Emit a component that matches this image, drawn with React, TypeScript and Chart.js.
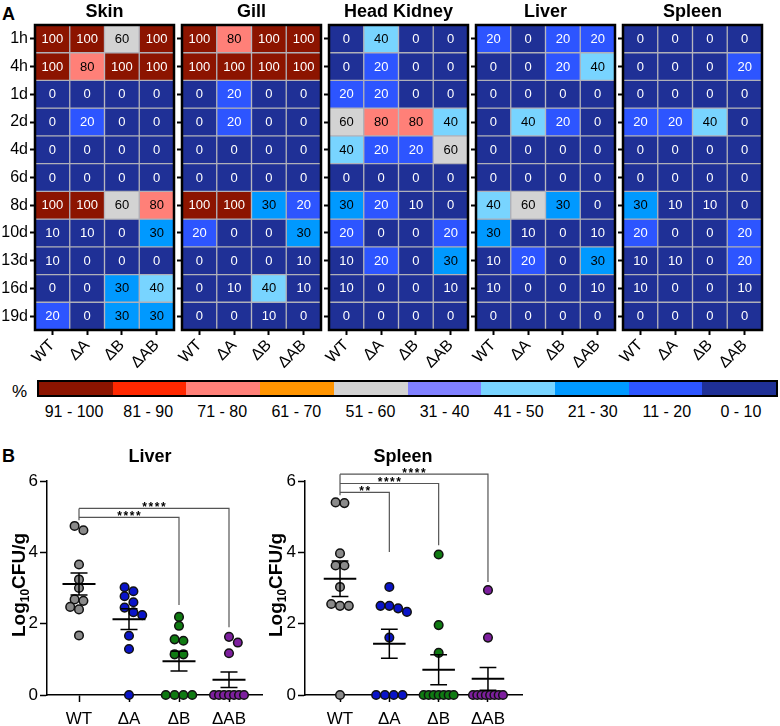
import React, { useEffect, useRef } from "react";
import { Chart, registerables } from "chart.js";
Chart.register(...registerables);

const FONT = "'Liberation Sans', Arial, Helvetica, sans-serif";
Chart.defaults.font.family = FONT;
Chart.defaults.color = "#000";

// ---------- DATA ----------
const timePoints = ["1h", "4h", "1d", "2d", "4d", "6d", "8d", "10d", "13d", "16d", "19d"];
const strains = ["WT", "\u0394A", "\u0394B", "\u0394AB"];

const skinPct = [
  [100, 100, 60, 100],
  [100, 80, 100, 100],
  [0, 0, 0, 0],
  [0, 20, 0, 0],
  [0, 0, 0, 0],
  [0, 0, 0, 0],
  [100, 100, 60, 80],
  [10, 10, 0, 30],
  [10, 0, 0, 0],
  [0, 0, 30, 40],
  [20, 0, 30, 30],
];
const gillPct = [
  [100, 80, 100, 100],
  [100, 100, 100, 100],
  [0, 20, 0, 0],
  [0, 20, 0, 0],
  [0, 0, 0, 0],
  [0, 0, 0, 0],
  [100, 100, 30, 20],
  [20, 0, 0, 30],
  [0, 0, 0, 10],
  [0, 10, 40, 10],
  [0, 0, 10, 0],
];
const headKidneyPct = [
  [0, 40, 0, 0],
  [0, 20, 0, 0],
  [20, 20, 0, 0],
  [60, 80, 80, 40],
  [40, 20, 20, 60],
  [0, 0, 0, 0],
  [30, 20, 10, 0],
  [20, 0, 0, 20],
  [10, 20, 0, 30],
  [10, 0, 0, 10],
  [0, 0, 0, 0],
];
const liverPct = [
  [20, 0, 20, 20],
  [0, 0, 20, 40],
  [0, 0, 0, 0],
  [0, 40, 20, 0],
  [0, 0, 0, 0],
  [0, 0, 0, 0],
  [40, 60, 30, 0],
  [30, 10, 0, 10],
  [10, 20, 0, 30],
  [10, 0, 0, 10],
  [0, 0, 0, 0],
];
const spleenPct = [
  [0, 0, 0, 0],
  [0, 0, 0, 20],
  [0, 0, 0, 0],
  [20, 20, 40, 0],
  [0, 0, 0, 0],
  [0, 0, 0, 0],
  [30, 10, 10, 0],
  [20, 0, 0, 20],
  [10, 10, 0, 20],
  [10, 0, 0, 10],
  [0, 0, 0, 0],
];
const tissueNames = ["Skin", "Gill", "Head Kidney", "Liver", "Spleen"];

const legendRanges = ["91 - 100", "81 - 90", "71 - 80", "61 - 70", "51 - 60", "31 - 40", "41 - 50", "21 - 30", "11 - 20", "0 - 10"];
const legendColors = ["#8c1400", "#ff2800", "#ff8078", "#ff9400", "#d3d3d3", "#8080ff", "#78d4ff", "#0099ff", "#2d55ff", "#1f3096"];

// log10 CFU/g
const liverWT = [4.74, 4.62, 3.66, 3.24, 3.0, 2.68, 2.64, 2.47, 2.4, 1.67];
const liverDA = [3.02, 2.91, 2.77, 2.6, 2.45, 2.32, 2.24, 1.66, 1.29, 0];
const liverDB = [2.19, 1.94, 1.56, 1.52, 1.14, 1.14, 0, 0, 0, 0];
const liverDAB = [1.63, 1.47, 1.17, 0, 0, 0, 0, 0, 0, 0];
const spleenWT = [5.4, 5.38, 3.97, 3.63, 3.63, 3.03, 2.55, 2.5, 2.5, 0];
const spleenDA = [3.03, 2.5, 2.5, 2.43, 2.33, 1.61, 0, 0, 0, 0];
const spleenDB = [3.94, 1.96, 1.18, 0, 0, 0, 0, 0, 0, 0];
const spleenDAB = [2.94, 1.61, 0, 0, 0, 0, 0, 0, 0, 0];
const groupColors = ["#8a8a8a", "#0a14c8", "#0f7a12", "#7d1f9e"];

// significance brackets: compared groups, label, bracket level and leg end (log10 CFU/g)
const liverSig = [
  { from: 0, to: 2, label: "****", level: 4.98, end: 2.52 },
  { from: 0, to: 3, label: "****", level: 5.23, end: 1.9 },
];
const spleenSig = [
  { from: 0, to: 1, label: "**", level: 5.68, end: 4.01 },
  { from: 0, to: 2, label: "****", level: 5.93, end: 4.2 },
  { from: 0, to: 3, label: "****", level: 6.19, end: 3.17 },
];

// ---------- helpers ----------
function cellColor(v: number) {
  if (v >= 91) return legendColors[0];
  if (v >= 81) return legendColors[1];
  if (v >= 71) return legendColors[2];
  if (v >= 61) return legendColors[3];
  if (v >= 51) return legendColors[4];
  if (v >= 41) return legendColors[5];
  if (v >= 31) return legendColors[6];
  if (v >= 21) return legendColors[7];
  if (v >= 11) return legendColors[8];
  return legendColors[9];
}
function textColor(v: number) {
  if (v >= 81) return "#fff";
  if (v >= 21) return "#000";
  return "#fff";
}

function swarm(values: number[], pxY: number, d: number, maxRow: number): number[] {
  const order = values.map((_, i) => i).sort((a, b) => values[b] - values[a]);
  const rows: number[][] = [];
  for (const i of order) {
    const r = rows[rows.length - 1];
    if (r && values[r[0]] - values[i] <= 0.13) r.push(i);
    else rows.push([i]);
  }
  const placed: { x: number; y: number }[] = [];
  const off = new Array(values.length).fill(0);
  const shifts = [0, 0.5, -0.5, 1, -1, 1.5, -1.5, 2, -2].map((s) => s * d);
  for (const r of rows) {
    const n = r.length;
    const sp = n > 1 ? Math.min(d, maxRow / (n - 1)) : 0;
    const base = r.map((_, k) => (k - (n - 1) / 2) * sp);
    let chosen = 0;
    for (const s of shifts) {
      const ok = r.every((i, k) =>
        placed.every((p) => Math.hypot(base[k] + s - p.x, values[i] * pxY - p.y) >= 0.88 * d)
      );
      if (ok) {
        chosen = s;
        break;
      }
    }
    r.forEach((i, k) => {
      off[i] = base[k] + chosen;
      placed.push({ x: off[i], y: values[i] * pxY });
    });
  }
  return off;
}

// ---------- Heatmap panel ----------
const HM_TOP = 25;
const HM_W = 139;
const HM_H = 305;
const HM_XAXIS = 50;
const HM_PADR = 4;

function HeatmapPanel({ name, matrix, left, yw, showLabels }: any) {
  const ref = useRef<HTMLCanvasElement>(null);
  const W = yw + HM_W + HM_PADR;
  const H = HM_TOP + HM_H + HM_XAXIS;
  useEffect(() => {
    const plugin = {
      id: "hmDecor",
      afterDatasetsDraw(chart: any) {
        const ctx = chart.ctx;
        ctx.save();
        ctx.font = `13px ${FONT}`;
        ctx.textAlign = "center";
        ctx.textBaseline = "middle";
        chart.data.datasets.forEach((_: any, r: number) => {
          const meta = chart.getDatasetMeta(r);
          meta.data.forEach((el: any, c: number) => {
            const v = matrix[r][c];
            const p = el.getProps(["x", "y", "base"], true);
            ctx.fillStyle = textColor(v);
            ctx.fillText(String(v), p.x, (p.y + p.base) / 2 + 0.5);
          });
        });
        const a = chart.chartArea;
        ctx.lineWidth = 2.5;
        ctx.strokeStyle = "#000";
        ctx.strokeRect(a.left, a.top, a.right - a.left, a.bottom - a.top);
        ctx.font = `bold 18px ${FONT}`;
        ctx.fillStyle = "#000";
        ctx.textBaseline = "alphabetic";
        ctx.fillText(name, (a.left + a.right) / 2, 17);
        ctx.restore();
      },
    };
    const chart = new Chart(ref.current as HTMLCanvasElement, {
      type: "bar",
      data: {
        labels: strains,
        datasets: timePoints.map((t, r) => ({
          label: t,
          data: strains.map(() => 1),
          backgroundColor: matrix[r].map((v: number) => cellColor(v)),
          borderColor: "#b0b0b8",
          borderWidth: 1,
          borderSkipped: false,
          barPercentage: 1,
          categoryPercentage: 1,
        })),
      },
      options: {
        responsive: false,
        devicePixelRatio: 1,
        animation: false,
        layout: { padding: { top: HM_TOP, right: HM_PADR, left: 0, bottom: 0 } },
        plugins: { legend: { display: false }, tooltip: { enabled: false }, title: { display: false } },
        scales: {
          x: {
            type: "category",
            stacked: true,
            offset: true,
            afterFit: (s: any) => {
              s.height = HM_XAXIS;
            },
            ticks: { autoSkip: false, minRotation: 45, maxRotation: 45, font: { size: 16 }, padding: 1, color: "#000" },
            grid: { offset: false, drawOnChartArea: false, drawTicks: true, tickLength: 5, tickColor: "#000", tickWidth: 2 },
            border: { display: false },
          },
          y: {
            type: "linear",
            stacked: true,
            reverse: true,
            min: 0,
            max: timePoints.length,
            afterBuildTicks: (s: any) => {
              s.ticks = timePoints.map((_, i) => ({ value: i + 0.5 }));
            },
            afterFit: (s: any) => {
              s.width = yw;
            },
            ticks: {
              display: showLabels,
              callback: (_v: any, i: number) => timePoints[i],
              font: { size: 16 },
              padding: 2,
              color: "#000",
            },
            grid: { drawOnChartArea: false, drawTicks: true, tickLength: 5, tickColor: "#000", tickWidth: 2 },
            border: { display: false },
          },
        },
      } as any,
      plugins: [plugin],
    });
    return () => chart.destroy();
  }, []);
  return (
    <canvas
      ref={ref}
      width={W}
      height={H}
      style={{ position: "absolute", left: left - yw, top: 0, width: W, height: H }}
    />
  );
}

// ---------- Scatter panel ----------
const SC_TOP = 440;
const SC_H = 286;
const SC_PADTOP = 41;
const SC_XAXIS = 31;
const SC_PADR = 13;

function ScatterPanel({ title, groups, sig, left, width, yw, xmin, xmax, titleX, yTitleX }: any) {
  const ref = useRef<HTMLCanvasElement>(null);
  useEffect(() => {
    const areaW = width - yw - SC_PADR;
    const areaH = SC_H - SC_PADTOP - SC_XAXIS;
    const pxX = areaW / (xmax - xmin);
    const pxY = areaH / 6;
    const datasets = groups.map((vals: number[], g: number) => {
      const off = swarm(vals, pxY, 8.8, 30);
      return {
        label: strains[g],
        data: vals.map((v, i) => ({ x: g + off[i] / pxX, y: v })),
        backgroundColor: groupColors[g],
        borderColor: "#111",
        borderWidth: 1.5,
        pointRadius: 4.3,
        pointHoverRadius: 4.3,
        clip: false,
      };
    });
    const plugin = {
      id: "scDecor",
      afterDatasetsDraw(chart: any) {
        const { ctx } = chart;
        const x = chart.scales.x;
        const y = chart.scales.y;
        ctx.save();
        ctx.strokeStyle = "#000";
        ctx.lineCap = "butt";
        groups.forEach((vals: number[], g: number) => {
          const n = vals.length;
          const m = vals.reduce((a, b) => a + b, 0) / n;
          const sd = Math.sqrt(vals.reduce((a, b) => a + (b - m) * (b - m), 0) / (n - 1));
          const sem = sd / Math.sqrt(n);
          const cx = x.getPixelForValue(g);
          ctx.lineWidth = 2;
          ctx.beginPath();
          ctx.moveTo(x.getPixelForValue(g - 0.33), y.getPixelForValue(m));
          ctx.lineTo(x.getPixelForValue(g + 0.33), y.getPixelForValue(m));
          ctx.stroke();
          ctx.lineWidth = 1.5;
          ctx.beginPath();
          ctx.moveTo(cx, y.getPixelForValue(m - sem));
          ctx.lineTo(cx, y.getPixelForValue(m + sem));
          for (const e of [m - sem, m + sem]) {
            ctx.moveTo(x.getPixelForValue(g - 0.17), y.getPixelForValue(e));
            ctx.lineTo(x.getPixelForValue(g + 0.17), y.getPixelForValue(e));
          }
          ctx.stroke();
        });
        // brackets
        ctx.strokeStyle = "#555";
        ctx.lineWidth = 1.2;
        const levels = sig.map((s: any) => s.level);
        const top = Math.max(...levels);
        const low = Math.min(...levels);
        ctx.beginPath();
        ctx.moveTo(x.getPixelForValue(0), y.getPixelForValue(top));
        ctx.lineTo(x.getPixelForValue(0), y.getPixelForValue(low - 0.08));
        ctx.stroke();
        sig.forEach((s: any) => {
          const x1 = x.getPixelForValue(s.from);
          const x2 = x.getPixelForValue(s.to);
          const ly = y.getPixelForValue(s.level);
          ctx.strokeStyle = "#555";
          ctx.beginPath();
          ctx.moveTo(x1, ly);
          ctx.lineTo(x2, ly);
          ctx.lineTo(x2, y.getPixelForValue(s.end));
          ctx.stroke();
          ctx.fillStyle = "#000";
          ctx.font = `bold 12px ${FONT}`;
          ctx.textAlign = "center";
          ctx.textBaseline = "alphabetic";
          const chars = s.label.split("");
          const step = 6.2;
          const mid = (x1 + x2) / 2;
          chars.forEach((ch: string, k: number) => {
            ctx.fillText(ch, mid + (k - (chars.length - 1) / 2) * step, ly + 3);
          });
        });
        ctx.restore();
      },
      afterDraw(chart: any) {
        const { ctx, chartArea } = chart;
        ctx.save();
        ctx.fillStyle = "#000";
        ctx.font = `bold 18px ${FONT}`;
        ctx.textAlign = "center";
        ctx.textBaseline = "alphabetic";
        ctx.fillText(title, titleX, 21.5);
        // y title with subscript
        const cy = (chartArea.top + chartArea.bottom) / 2 - 3;
        ctx.translate(yTitleX, cy);
        ctx.rotate(-Math.PI / 2);
        const big = `bold 19px ${FONT}`;
        const small = `bold 12px ${FONT}`;
        ctx.font = big;
        const w1 = ctx.measureText("Log").width;
        const w3 = ctx.measureText("CFU/g").width;
        ctx.font = small;
        const w2 = ctx.measureText("10").width;
        const total = w1 + w2 + w3;
        let sx = -total / 2;
        ctx.textAlign = "left";
        const base = 7;
        ctx.font = big;
        ctx.fillText("Log", sx, base);
        sx += w1;
        ctx.font = small;
        ctx.fillText("10", sx, base + 4);
        sx += w2;
        ctx.font = big;
        ctx.fillText("CFU/g", sx, base);
        ctx.restore();
      },
    };
    const chart = new Chart(ref.current as HTMLCanvasElement, {
      type: "scatter",
      data: { datasets },
      options: {
        responsive: false,
        devicePixelRatio: 1,
        animation: false,
        layout: { padding: { top: SC_PADTOP, right: SC_PADR, left: 0, bottom: 0 } },
        plugins: { legend: { display: false }, tooltip: { enabled: false } },
        scales: {
          x: {
            type: "linear",
            min: xmin,
            max: xmax,
            afterBuildTicks: (s: any) => {
              s.ticks = strains.map((_, i) => ({ value: i }));
            },
            afterFit: (s: any) => {
              s.height = SC_XAXIS;
            },
            ticks: {
              autoSkip: false,
              maxRotation: 0,
              callback: (_v: any, i: number) => strains[i],
              font: { size: 17 },
              padding: 7,
              color: "#000",
            },
            grid: { drawOnChartArea: false, drawTicks: true, tickLength: 7, tickColor: "#000", tickWidth: 1.5 },
            border: { display: true, color: "#000", width: 1.5 },
          },
          y: {
            type: "linear",
            min: 0,
            max: 6,
            afterFit: (s: any) => {
              s.width = yw;
            },
            ticks: { stepSize: 2, font: { size: 17 }, padding: 2, color: "#000" },
            grid: { drawOnChartArea: false, drawTicks: true, tickLength: 7, tickColor: "#000", tickWidth: 1.5 },
            border: { display: true, color: "#000", width: 1.5 },
          },
        },
      } as any,
      plugins: [plugin],
    });
    return () => chart.destroy();
  }, []);
  return (
    <canvas
      ref={ref}
      width={width}
      height={SC_H}
      style={{ position: "absolute", left, top: SC_TOP, width, height: SC_H }}
    />
  );
}

export default function App() {
  const matrices = [skinPct, gillPct, headKidneyPct, liverPct, spleenPct];
  const legendLeft = 37;
  const legendWidth = 741;
  const seg = legendWidth / legendRanges.length;
  return (
    <div
      style={{
        position: "absolute",
        left: 0,
        top: 0,
        width: 780,
        height: 726,
        background: "#fff",
        overflow: "hidden",
        fontFamily: FONT,
        color: "#000",
      }}
    >
      <div style={{ position: "absolute", left: 2, top: 4.5, fontSize: 18, fontWeight: "bold", lineHeight: 1 }}>A</div>
      <div style={{ position: "absolute", left: 2, top: 446.5, fontSize: 18, fontWeight: "bold", lineHeight: 1 }}>B</div>
      {tissueNames.map((n, i) => (
        <HeatmapPanel
          key={n}
          name={n}
          matrix={matrices[i]}
          left={35 + i * 147}
          yw={i === 0 ? 35 : 8}
          showLabels={i === 0}
        />
      ))}
      <div style={{ position: "absolute", left: 12, top: 383, fontSize: 17, lineHeight: 1 }}>%</div>
      <div
        style={{
          position: "absolute",
          left: legendLeft,
          top: 380,
          width: legendWidth,
          height: 17,
          border: "2px solid #000",
          boxSizing: "border-box",
          display: "flex",
        }}
      >
        {legendColors.map((c, i) => (
          <div key={i} style={{ flex: 1, background: c }} />
        ))}
      </div>
      {legendRanges.map((t, i) => (
        <div
          key={t}
          style={{
            position: "absolute",
            left: legendLeft + i * seg,
            width: seg,
            top: 404,
            fontSize: 16,
            lineHeight: 1,
            textAlign: "center",
            whiteSpace: "nowrap",
          }}
        >
          {t}
        </div>
      ))}
      <ScatterPanel
        title="Liver"
        groups={[liverWT, liverDA, liverDB, liverDAB]}
        sig={liverSig}
        left={0}
        width={275}
        yw={47}
        xmin={-0.64}
        xmax={3.66}
        titleX={150}
        yTitleX={18}
      />
      <ScatterPanel
        title="Spleen"
        groups={[spleenWT, spleenDA, spleenDB, spleenDAB]}
        sig={spleenSig}
        left={260}
        width={275}
        yw={45}
        xmin={-0.71}
        xmax={3.69}
        titleX={143}
        yTitleX={15}
      />
    </div>
  );
}
